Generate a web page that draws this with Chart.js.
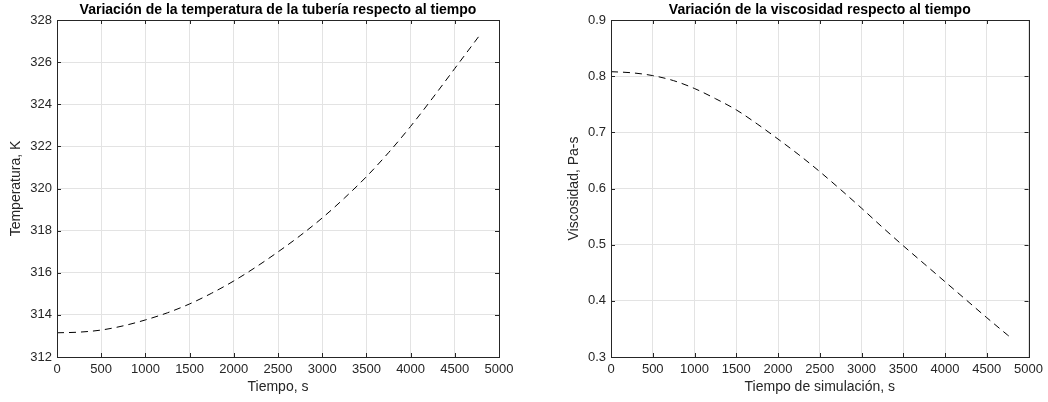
<!DOCTYPE html>
<html>
<head>
<meta charset="utf-8">
<script src="https://cdn.jsdelivr.net/npm/chart.js@4/dist/chart.umd.min.js"></script>
<style>
  html, body { margin: 0; padding: 0; background: #fff; }
  #wrap { position: relative; width: 1048px; height: 402px; }
  .panel { position: absolute; top: 0; width: 524px; height: 402px; }
</style>
</head>
<body>
<div id="wrap">
  <div class="panel" style="left:0"><canvas id="tempChart" width="524" height="402"></canvas></div>
  <div class="panel" style="left:524px"><canvas id="viscChart" width="524" height="402"></canvas></div>
</div>
<script>
// tiempo de simulación (s)
const tiempo = [0, 250, 500, 750, 1000, 1250, 1500, 1750, 2000, 2250, 2500,
                2750, 3000, 3250, 3500, 3750, 4000, 4250, 4500, 4750, 4800];
// temperatura de la tubería (K)
const temperatura = [313.15, 313.18, 313.28, 313.48, 313.76, 314.10, 314.52, 315.03, 315.61, 316.27, 316.99,
                     317.76, 318.60, 319.54, 320.56, 321.70, 322.95, 324.30, 325.70, 327.10, 327.38];
// viscosidad (Pa-s)
const viscosidad = [0.808, 0.806, 0.801, 0.792, 0.778, 0.760, 0.740, 0.715, 0.688, 0.660, 0.630,
                    0.598, 0.565, 0.531, 0.498, 0.466, 0.434, 0.402, 0.370, 0.339, 0.333];

const tiempoTicks = [0, 500, 1000, 1500, 2000, 2500, 3000, 3500, 4000, 4500, 5000];
const tempTicks = [312, 314, 316, 318, 320, 322, 324, 326, 328];
const viscTicks = [0.3, 0.4, 0.5, 0.6, 0.7, 0.8, 0.9];

const FONT = "'Liberation Sans', Arial, Helvetica, sans-serif";
const AXIS = "#262626";
const GRID = "#e3e3e3";

// caja estilo MATLAB: borde completo, marcas hacia dentro y título centrado sobre los ejes
const matlabBox = {
    id: "matlabBox",
    afterDraw(chart, args, opts) {
        const ctx = chart.ctx;
        const a = chart.chartArea;
        const xs = chart.scales.x, ys = chart.scales.y;
        const tl = 4;
        ctx.save();
        ctx.strokeStyle = AXIS;
        ctx.lineWidth = 1;
        ctx.beginPath();
        xs.ticks.forEach(t => {
            const px = Math.round(xs.getPixelForValue(t.value)) + 0.5;
            ctx.moveTo(px, a.bottom); ctx.lineTo(px, a.bottom - tl);
            ctx.moveTo(px, a.top); ctx.lineTo(px, a.top + tl);
        });
        ys.ticks.forEach(t => {
            const py = Math.round(ys.getPixelForValue(t.value)) + 0.5;
            ctx.moveTo(a.left, py); ctx.lineTo(a.left + tl, py);
            ctx.moveTo(a.right, py); ctx.lineTo(a.right - tl, py);
        });
        ctx.stroke();
        ctx.strokeRect(Math.round(a.left) + 0.5, Math.round(a.top) + 0.5,
                       Math.round(a.right - a.left), Math.round(a.bottom - a.top));

        ctx.fillStyle = "#000";
        ctx.font = "bold 14px " + FONT;
        ctx.textAlign = "center";
        ctx.textBaseline = "middle";
        ctx.fillText(opts.text, (a.left + a.right) / 2, 10);
        ctx.restore();
    }
};

function makeChart(id, values, yTicks, cfg) {
    return new Chart(document.getElementById(id), {
        type: "line",
        data: {
            datasets: [{
                data: tiempo.map((t, i) => ({ x: t, y: values[i] })),
                borderColor: "#000",
                borderWidth: 1,
                borderDash: [7, 5],
                pointRadius: 0,
                cubicInterpolationMode: "monotone",
                fill: false
            }]
        },
        options: {
            responsive: false,
            animation: false,
            layout: { padding: { top: 20, right: cfg.padRight, left: 0, bottom: 0 } },
            plugins: {
                legend: { display: false },
                tooltip: { enabled: false },
                matlabBox: { text: cfg.title }
            },
            scales: {
                x: {
                    type: "linear",
                    min: 0, max: 5000,
                    afterBuildTicks: s => { s.ticks = tiempoTicks.map(v => ({ value: v })); },
                    afterFit: s => { s.height = 45; },
                    grid: { color: GRID, drawTicks: false },
                    border: { display: false },
                    ticks: { color: AXIS, padding: 5, maxRotation: 0, font: { family: FONT, size: 13 },
                             callback: v => String(v) },
                    title: { display: true, text: cfg.xTitle, color: AXIS, padding: { top: 0, bottom: 6 },
                             font: { family: FONT, size: 14 } }
                },
                y: {
                    type: "linear",
                    min: yTicks[0], max: yTicks[yTicks.length - 1],
                    afterBuildTicks: s => { s.ticks = yTicks.map(v => ({ value: v })); },
                    afterFit: s => { s.width = cfg.yWidth; },
                    grid: { color: GRID, drawTicks: false },
                    border: { display: false },
                    ticks: { color: AXIS, padding: 5, font: { family: FONT, size: 13 },
                             callback: v => cfg.fmt(v) },
                    title: { display: true, text: cfg.yTitle, color: AXIS, padding: { top: cfg.yTitlePad, bottom: 0 },
                             font: { family: FONT, size: 14 } }
                }
            }
        },
        plugins: [matlabBox]
    });
}

makeChart("tempChart", temperatura, tempTicks, {
    title: "Variación de la temperatura de la tubería respecto al tiempo",
    xTitle: "Tiempo, s",
    yTitle: "Temperatura, K",
    yWidth: 57, yTitlePad: 8, padRight: 25,
    fmt: v => String(v)
});

makeChart("viscChart", viscosidad, viscTicks, {
    title: "Variación de la viscosidad respecto al tiempo",
    xTitle: "Tiempo de simulación, s",
    yTitle: "Viscosidad, Pa-s",
    yWidth: 87, yTitlePad: 42, padRight: 15,
    fmt: v => v.toFixed(1)
});
</script>
</body>
</html>
